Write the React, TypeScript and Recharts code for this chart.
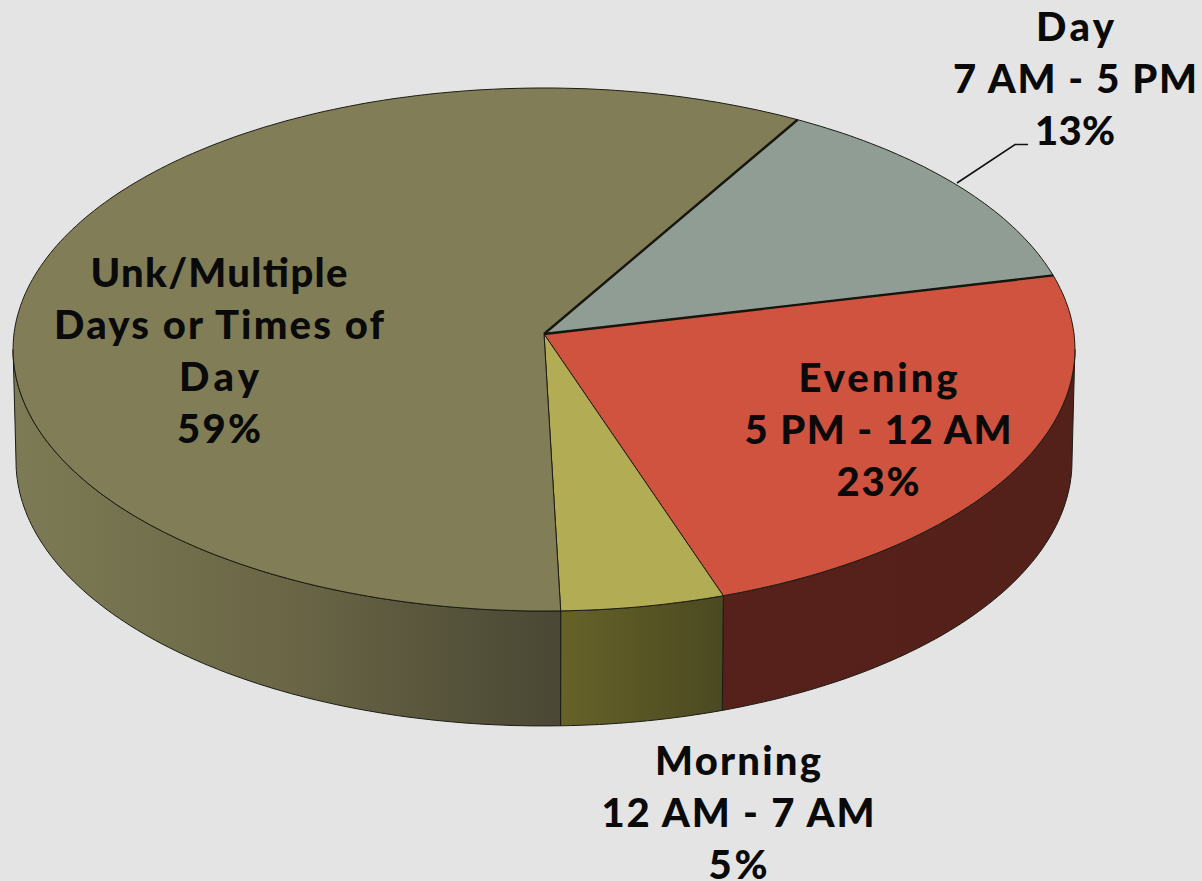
import * as React from "react";
import { PieChart, Pie } from "recharts";

const categories = ["Day", "Evening", "Morning", "Unk/Multiple"];
const shares = [12.95, 23.49, 4.7, 58.86];
const percentLabels = ["13%", "23%", "5%", "59%"];
const labelLines = [
  ["Day", "7 AM - 5 PM"],
  ["Evening", "5 PM - 12 AM"],
  ["Morning", "12 AM - 7 AM"],
  ["Unk/Multiple", "Days or Times of", "Day"],
];

const data = categories.map((name, i) => ({ name, value: shares[i] }));

const topColors = ["#909d94", "#cf533e", "#b2ac55", "#807d57"];
const wallStops = [
  ["#5a5a50", "#5a5a50"],
  ["#56211a", "#54201a"],
  ["#666229", "#4b4921"],
  ["#7d7b55", "#4a4734"],
];
const labelPos = [
  { x: 1075, y: 41 },
  { x: 878, y: 392 },
  { x: 738, y: 775 },
  { x: 219, y: 287 },
];
// width of each label line in px, the original font runs wider than Lato
const lineWidths = [
  [78, 244, 80],
  [159, 267, 83],
  [166, 273, 59],
  [257, 330, 80, 84],
];
const lineGap = 52;

// the pie is a flat circle seen from above, k is the perspective strength
const k = 0.0593;
const R = 265;
const top = { sx: 2, sy: 0.9834, dy: 0 };
const bottom = { sx: 1.989, sy: 0.9962, dy: 111.3 };
// rim angles where the side wall starts to show
const wallFrom = -3.4;
const wallTo = -176.6;

function project(cx: number, cy: number, deg: number, p: typeof top) {
  const a = (deg * Math.PI) / 180;
  const u = Math.cos(a);
  const v = -Math.sin(a);
  const w = 1 - k * v;
  return [cx + (R * p.sx * u) / w, cy + p.dy + (R * p.sy * v) / w];
}

function arc(cx: number, cy: number, from: number, to: number, p: typeof top) {
  const n = Math.max(2, Math.ceil(Math.abs(from - to)));
  const pts: number[][] = [];
  for (let i = 0; i <= n; i++) {
    pts.push(project(cx, cy, from + ((to - from) * i) / n, p));
  }
  return pts;
}

const toPath = (pts: number[][]) =>
  "M" + pts.map((q) => q[0].toFixed(1) + " " + q[1].toFixed(1)).join("L") + "Z";

function Slice3D(props: any) {
  const { cx, cy, startAngle, endAngle, index } = props;
  const hi = Math.min(startAngle, wallFrom);
  const lo = Math.max(endAngle, wallTo);
  const gradId = "wall" + index;
  let wall = null;
  if (hi > lo) {
    const upper = arc(cx, cy, hi, lo, top);
    const lower = arc(cx, cy, lo, hi, bottom);
    const xs = upper.concat(lower).map((q) => q[0]);
    wall = (
      <g>
        <defs>
          <linearGradient
            id={gradId}
            gradientUnits="userSpaceOnUse"
            x1={Math.min(...xs)}
            x2={Math.max(...xs)}
            y1={0}
            y2={0}
          >
            <stop offset="0" stopColor={wallStops[index][0]} />
            {index === 3 && <stop offset="0.5" stopColor="#6a6646" />}
            <stop offset="1" stopColor={wallStops[index][1]} />
          </linearGradient>
        </defs>
        <path
          d={toPath(upper.concat(lower))}
          fill={`url(#${gradId})`}
          stroke="#1c1c14"
          strokeWidth={1}
        />
      </g>
    );
  }
  const rim = arc(cx, cy, startAngle, endAngle, top);
  // the edges around the Day slice are heavier, drawn by its neighbours so they stay on top
  const heavy = index === 1 ? rim[0] : index === 3 ? rim[rim.length - 1] : null;
  return (
    <g>
      {wall}
      <path
        d={toPath([[cx, cy], ...rim])}
        fill={topColors[index]}
        stroke="#1c1c14"
        strokeWidth={1}
        strokeLinejoin="round"
      />
      {heavy && (
        <line
          x1={cx}
          y1={cy}
          x2={heavy[0]}
          y2={heavy[1]}
          stroke="#16160f"
          strokeWidth={2.4}
        />
      )}
    </g>
  );
}

function SliceLabel(props: any) {
  const { index } = props;
  const pos = labelPos[index];
  const lines = [...labelLines[index], percentLabels[index]];
  return (
    <g>
      {index === 0 && (
        <polyline
          points="957,183 1015,144.5 1028,144.5"
          fill="none"
          stroke="#111"
          strokeWidth={1.6}
        />
      )}
      {lines.map((line, i) => (
        <text
          key={i}
          x={pos.x}
          y={pos.y + i * lineGap}
          textAnchor="middle"
          fontFamily="Lato, sans-serif"
          fontWeight={900}
          fontSize={40}
          textLength={lineWidths[index][i]}
          lengthAdjust="spacing"
          fill="#0a0a0a"
        >
          {line}
        </text>
      ))}
    </g>
  );
}

export default function App() {
  return (
    <div
      style={{
        position: "fixed",
        left: 0,
        top: 0,
        width: 1202,
        height: 881,
        background: "#e4e4e4",
        overflow: "hidden",
      }}
    >
      <PieChart width={1202} height={881} margin={{ top: 0, right: 0, bottom: 0, left: 0 }}>
        <Pie
          data={data}
          dataKey="value"
          nameKey="name"
          cx={544}
          cy={334}
          innerRadius={0}
          outerRadius={R}
          startAngle={59.8}
          endAngle={-300.2}
          isAnimationActive={false}
          shape={Slice3D}
          label={SliceLabel}
          labelLine={false}
        />
      </PieChart>
    </div>
  );
}
